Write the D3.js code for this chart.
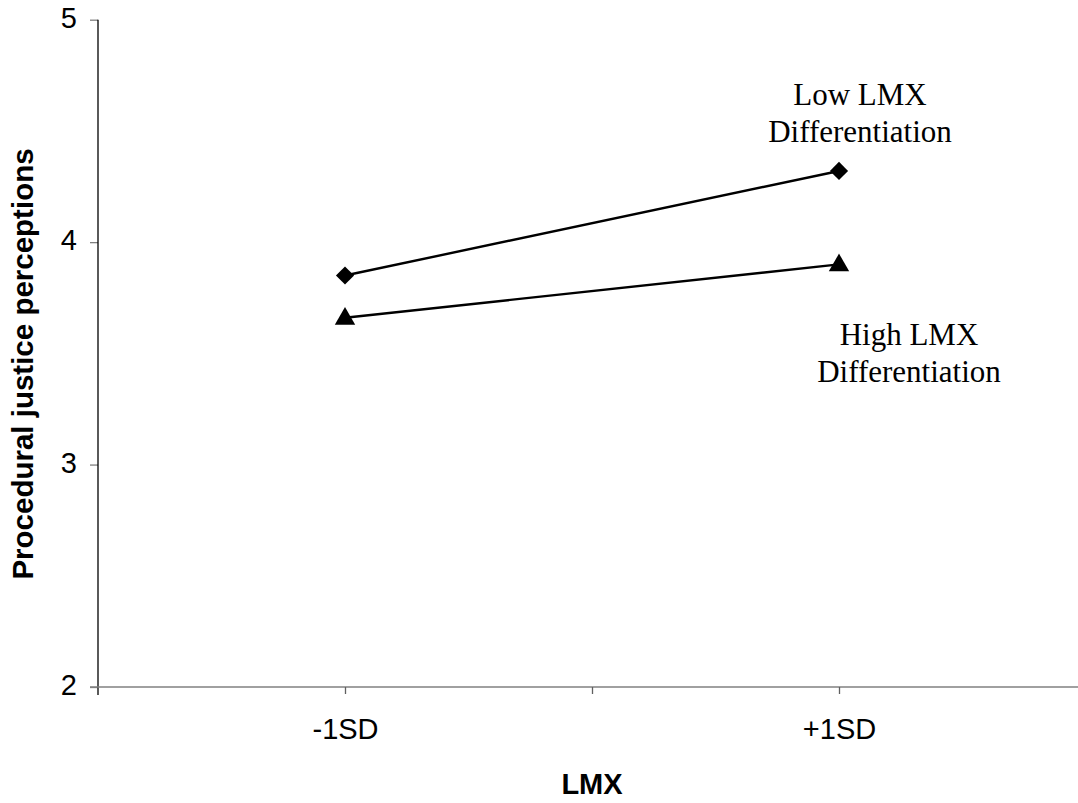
<!DOCTYPE html>
<html>
<head>
<meta charset="utf-8">
<script src="https://cdn.jsdelivr.net/npm/d3@7/dist/d3.min.js"></script>
<style>
  html, body { margin: 0; padding: 0; background: #fff; }
  svg { display: block; }
</style>
</head>
<body>
<svg id="chart" width="1078" height="803"></svg>
<script>
// ---- data ----
const categories = ["-1SD", "+1SD"];
const categoryPositions = [1, 3];
const lowDiffValues = [3.85, 4.32];
const highDiffValues = [3.66, 3.90];
const yTicks = [2, 3, 4, 5];
const xTicks = [1, 2, 3];
const seriesNames = ["Low LMX Differentiation", "High LMX Differentiation"];
const xTitle = "LMX";
const yTitle = "Procedural justice perceptions";

// ---- layout ----
const svg = d3.select("#chart");
const x = d3.scaleLinear().domain([0, 4]).range([98, 1086]);
const y = d3.scaleLinear().domain([2, 5]).range([687, 19.7]);

// y axis
const yAxis = svg.append("g").attr("transform", `translate(${x(0)},0)`)
  .call(d3.axisLeft(y).tickValues(yTicks).tickSize(8).tickFormat(d3.format("d")));
yAxis.select(".domain").remove();
yAxis.selectAll(".tick line").attr("stroke", "#808080").attr("stroke-width", 1.3);
yAxis.selectAll(".tick text")
  .attr("font-family", "'Liberation Sans', Arial, sans-serif")
  .attr("font-size", 29).attr("fill", "#000")
  .attr("x", -21).attr("dy", "0.27em");
svg.append("line").attr("x1", x(0)).attr("x2", x(0))
  .attr("y1", y(5)).attr("y2", y(2) + 8)
  .attr("stroke", "#000").attr("stroke-width", 1.3);

// x axis
svg.append("line").attr("x1", x(0) - 8).attr("x2", 1078)
  .attr("y1", y(2)).attr("y2", y(2))
  .attr("stroke", "#808080").attr("stroke-width", 1.6);
const xAxis = svg.append("g").attr("transform", `translate(0,${y(2)})`)
  .call(d3.axisBottom(x).tickValues(xTicks).tickSize(7)
    .tickFormat(d => { const i = categoryPositions.indexOf(d); return i >= 0 ? categories[i] : ""; }));
xAxis.select(".domain").remove();
xAxis.selectAll(".tick line").attr("stroke", "#606060").attr("stroke-width", 1.3);
xAxis.selectAll(".tick text")
  .attr("font-family", "'Liberation Sans', Arial, sans-serif")
  .attr("font-size", 29).attr("fill", "#000")
  .attr("y", 52).attr("dy", 0);

// axis titles
svg.append("text").attr("x", x(2)).attr("y", 794)
  .attr("text-anchor", "middle")
  .attr("font-family", "'Liberation Sans', Arial, sans-serif")
  .attr("font-weight", "bold").attr("font-size", 29)
  .text(xTitle);
svg.append("text")
  .attr("transform", `translate(33,${364}) rotate(-90)`)
  .attr("text-anchor", "middle")
  .attr("font-family", "'Liberation Sans', Arial, sans-serif")
  .attr("font-weight", "bold").attr("font-size", 29.5)
  .text(yTitle);

// series lines
const line = d3.line().x((d, i) => x(categoryPositions[i])).y(d => y(d));
[lowDiffValues, highDiffValues].forEach(vals => {
  svg.append("path").datum(vals).attr("d", line)
    .attr("fill", "none").attr("stroke", "#000").attr("stroke-width", 2.4);
});

// markers
const diamond = d3.symbol().type(d3.symbolSquare).size(165);
svg.selectAll(".dm").data(lowDiffValues).join("path")
  .attr("d", diamond)
  .attr("transform", (d, i) => `translate(${x(categoryPositions[i])},${y(d)}) rotate(45)`)
  .attr("fill", "#000");
const tri = d3.symbol().type(d3.symbolTriangle).size(180);
svg.selectAll(".tm").data(highDiffValues).join("path")
  .attr("d", tri)
  .attr("transform", (d, i) => `translate(${x(categoryPositions[i])},${y(d) + 1})`)
  .attr("fill", "#000");

// annotations
function label(lines, cx, baseline) {
  const t = svg.append("text")
    .attr("font-family", "'Liberation Serif', 'Times New Roman', serif")
    .attr("font-size", 31).attr("text-anchor", "middle").attr("fill", "#000");
  lines.forEach((s, i) => t.append("tspan").attr("x", cx).attr("y", baseline + i * 37).text(s));
}
label(["Low LMX", "Differentiation"], 860, 105);
label(["High LMX", "Differentiation"], 909, 345);
</script>
</body>
</html>
